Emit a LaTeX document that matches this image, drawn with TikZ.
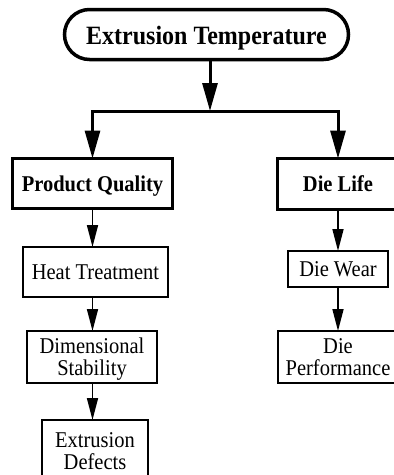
\documentclass[tikz,border=0pt]{standalone}
\usepackage{graphicx}
\usepackage{fontspec}
\setmainfont{Liberation Serif}
\usetikzlibrary{arrows.meta}
\newcommand{\stretchtxt}[1]{\raisebox{0pt}[\height][0pt]{\scalebox{1}[1.1]{\begin{tabular}[b]{@{}c@{}}#1\end{tabular}}}}
\begin{document}
\begin{tikzpicture}[x=1pt,y=-1pt,
  every node/.style={inner sep=0pt,outer sep=0pt,align=center,text=black},
  thickbox/.style={draw,line width=3.2pt,font=\fontsize{20.5}{19}\selectfont\bfseries},
  thinbox/.style={draw,line width=1.3pt,font=\fontsize{20.5}{19}\selectfont},
  bigarr/.style={line width=3pt,-{Triangle[length=28pt,width=15pt]}},
  smallarr/.style={line width=1.7pt,-{Triangle[length=22pt,width=11pt]}}]
\useasboundingbox (0,0) rectangle (394,475);
\clip (0,0) rectangle (394,475);
\fill[white] (0,0) rectangle (394,475);
% nodes
\node[draw,line width=3.5pt,rounded corners=25pt,minimum width=284pt,minimum height=50pt,
  font=\fontsize{24}{26}\selectfont\bfseries] (top) at (206.5,34.5) {\stretchtxt{Extrusion Temperature}};
\node[thickbox,minimum width=160pt,minimum height=50pt] (pq) at (92.5,183.5) {\stretchtxt{Product Quality}};
\node[thickbox,minimum width=121pt,minimum height=51pt] (dl) at (338,184) {\stretchtxt{Die Life}};
\node[thinbox,minimum width=145pt,minimum height=50pt] (ht) at (95.5,272) {\stretchtxt{Heat Treatment}};
\node[thinbox,minimum width=130pt,minimum height=52pt] (ds) at (92,357) {\stretchtxt{Dimensional\\Stability}};
\node[thinbox,minimum width=106pt,minimum height=62pt] (ed) at (95,451) {\stretchtxt{Extrusion\\Defects}};
\node[thinbox,minimum width=100pt,minimum height=36pt] (dw) at (338,269) {\stretchtxt{Die Wear}};
\node[thinbox,minimum width=120pt,minimum height=52pt] (dp) at (338,357) {\stretchtxt{Die\\Performance}};
% connectors
\coordinate (j) at (210,111);
\draw[bigarr] (top.south -| j) -- (j);
\draw[bigarr] (j) -| (pq.north);
\draw[bigarr] (j) -| (dl.north);
\draw[smallarr] (pq.south) -- (pq.south |- ht.north);
\draw[smallarr] (pq.south |- ht.south) -- (pq.south |- ds.north);
\draw[smallarr] (pq.south |- ds.south) -- (pq.south |- ed.north);
\draw[smallarr] (dl.south) -- (dw.north);
\draw[smallarr] (dw.south) -- (dp.north);
\end{tikzpicture}
\end{document}
